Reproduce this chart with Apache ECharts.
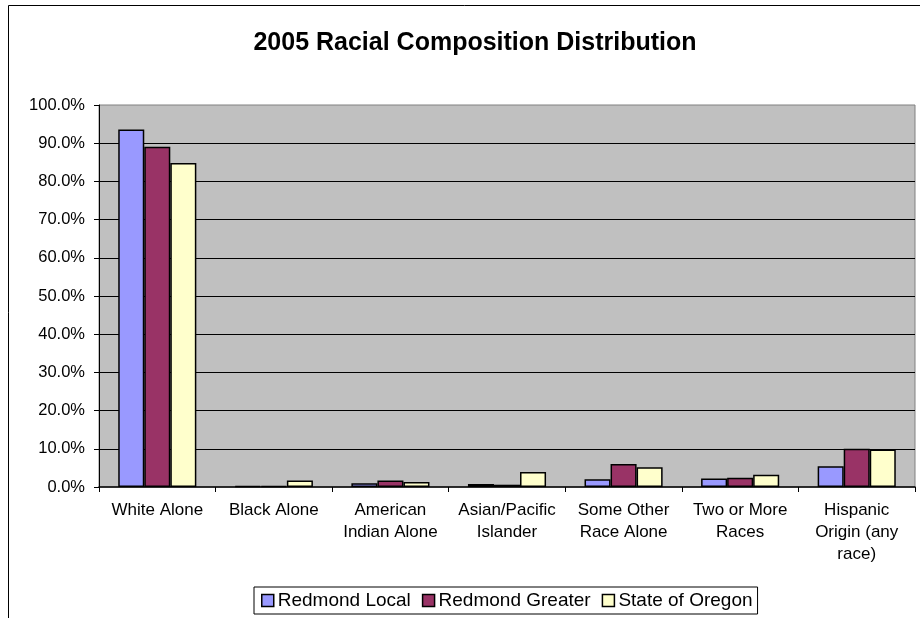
<!DOCTYPE html>
<html>
<head>
<meta charset="utf-8">
<title>2005 Racial Composition Distribution</title>
<script src="https://cdn.jsdelivr.net/npm/echarts@6/dist/echarts.min.js"></script>
<style>
  html, body { margin: 0; padding: 0; background: #fff; }
  #chart { width: 920px; height: 618px; }
</style>
</head>
<body>
<div id="chart"></div>
<script>
// Racial composition shares (percent of population), 2005
const categories = [
  'White Alone',
  'Black Alone',
  'American\nIndian Alone',
  'Asian/Pacific\nIslander',
  'Some Other\nRace Alone',
  'Two or More\nRaces',
  'Hispanic\nOrigin (any\nrace)'
];
const seriesNames = ['Redmond Local', 'Redmond Greater', 'State of Oregon'];
const redmondLocal   = [93.6, 0.2, 1.0, 0.8, 2.0, 2.2, 5.4];
const redmondGreater = [89.1, 0.2, 1.7, 0.6, 6.0, 2.4, 10.0];
const stateOfOregon  = [84.8, 1.7, 1.3, 3.9, 5.2, 3.2, 9.8];
const yTicks = { min: 0, max: 100, interval: 10 };

const colors = ['#9999FF', '#993366', '#FFFFCC'];
const font = '"Liberation Sans", Arial, sans-serif';

const chart = echarts.init(document.getElementById('chart'), null, { renderer: 'canvas' });

const values = [redmondLocal, redmondGreater, stateOfOregon];

chart.setOption({
  backgroundColor: '#ffffff',
  animation: false,
  title: {
    text: '2005 Racial Composition Distribution',
    left: 470,
    top: 26,
    textAlign: 'center',
    textStyle: { fontFamily: font, fontSize: 25, fontWeight: 'bold', color: '#000' }
  },
  graphic: [{
    type: 'rect',
    silent: true,
    z: -1,
    shape: { x: 8.5, y: 5.5, width: 1000, height: 1000 },
    style: { fill: 'none', stroke: '#000', lineWidth: 1 }
  }],
  legend: {
    data: seriesNames,
    left: 254,
    top: 587,
    orient: 'horizontal',
    backgroundColor: '#fff',
    borderColor: '#000',
    borderWidth: 1,
    padding: [4, 5, 4, 7],
    itemWidth: 12,
    itemHeight: 12,
    itemGap: 11,
    icon: 'rect',
    itemStyle: { borderColor: '#000', borderWidth: 1.5 },
    textStyle: { fontFamily: font, fontSize: 19, color: '#000', padding: [0, 0, 0, -1] }
  },
  grid: {
    left: 99,
    right: 5,
    top: 105,
    bottom: 131,
    show: true,
    backgroundColor: '#C0C0C0',
    borderColor: '#808080',
    borderWidth: 1,
    containLabel: false
  },
  xAxis: {
    type: 'category',
    data: categories,
    boundaryGap: true,
    axisLine: { show: true, lineStyle: { color: '#000', width: 1.5 } },
    axisTick: { show: true, length: 5, inside: false, lineStyle: { color: '#000', width: 1 } },
    axisLabel: {
      interval: 0,
      margin: 12,
      fontFamily: font,
      fontSize: 17,
      lineHeight: 22,
      color: '#000',
      align: 'center'
    },
    splitLine: { show: false }
  },
  yAxis: {
    type: 'value',
    min: yTicks.min,
    max: yTicks.max,
    interval: yTicks.interval,
    axisLine: { show: true, lineStyle: { color: '#000', width: 1 } },
    axisTick: { show: true, length: 5, lineStyle: { color: '#000', width: 1 } },
    axisLabel: {
      margin: 14,
      fontFamily: font,
      fontSize: 16.5,
      color: '#000',
      formatter: v => v.toFixed(1) + '%'
    },
    splitLine: {
      show: true,
      showMinLine: false,
      showMaxLine: false,
      lineStyle: { color: '#000', width: 1 }
    }
  },
  series: seriesNames.map((name, i) => ({
    name: name,
    type: 'bar',
    data: values[i],
    barGap: '0%',
    barCategoryGap: '33%',
    itemStyle: { color: colors[i], borderColor: '#000', borderWidth: 1.5 }
  }))
});
</script>
</body>
</html>
